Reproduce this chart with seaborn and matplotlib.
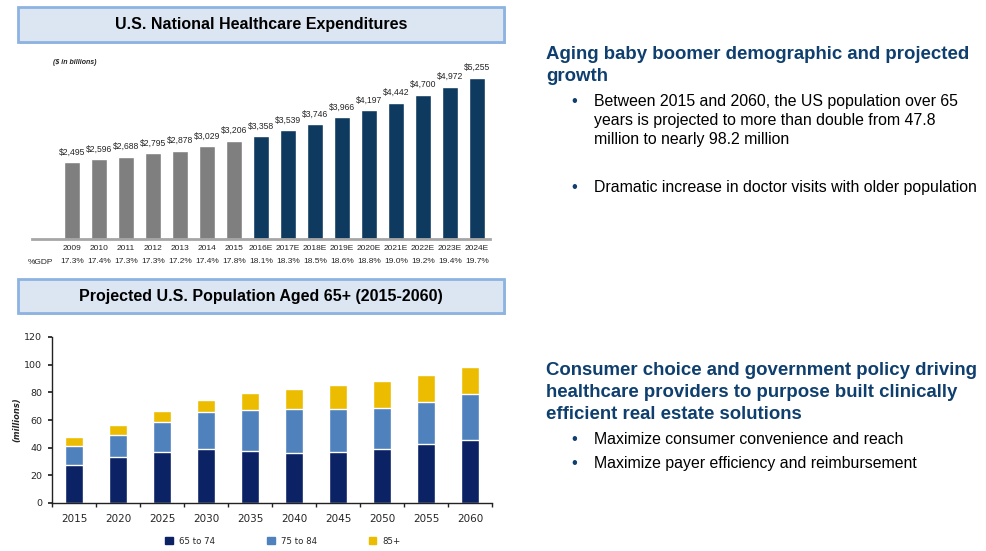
import matplotlib
matplotlib.use('Agg')

import matplotlib.pyplot as plt
from matplotlib.patches import Rectangle, Patch
import seaborn as sns
import pandas as pd

# top chart data
years = ['2009', '2010', '2011', '2012', '2013', '2014', '2015', '2016E', '2017E',
         '2018E', '2019E', '2020E', '2021E', '2022E', '2023E', '2024E']
spend = [2495, 2596, 2688, 2795, 2878, 3029, 3206, 3358, 3539, 3746, 3966,
         4197, 4442, 4700, 4972, 5255]
kind = ['Actual'] * 7 + ['Estimate'] * 9
gdp_pct = ['17.3%', '17.4%', '17.3%', '17.3%', '17.2%', '17.4%', '17.8%', '18.1%',
           '18.3%', '18.5%', '18.6%', '18.8%', '19.0%', '19.2%', '19.4%', '19.7%']

# bottom chart data (millions)
pop_years = ['2015', '2020', '2025', '2030', '2035', '2040', '2045', '2050', '2055', '2060']
age_65_74 = [27.6, 33.1, 37.2, 38.9, 37.9, 36.5, 37.2, 38.9, 43.0, 45.7]
age_75_84 = [13.8, 16.2, 21.7, 26.6, 29.0, 31.1, 30.4, 29.5, 29.7, 32.8]
age_85up = [6.4, 7.0, 7.3, 8.9, 12.3, 15.0, 17.4, 20.0, 19.8, 19.7]

sns.set_theme(style='white')
plt.rcParams['font.family'] = ['Liberation Sans', 'DejaVu Sans']

W, H = 987, 551
fig = plt.figure(figsize=(W / 100, H / 100), dpi=100)


def fx(px):
    return px / W


def fy(py):
    return 1 - py / H


def title_box(y0, y1, text):
    fig.patches.append(Rectangle((fx(20), fy(y1 + 2)), fx(486), (y1 - y0) / H,
                                 transform=fig.transFigure, facecolor='#c8c8c8',
                                 edgecolor='none', zorder=0))
    fig.patches.append(Rectangle((fx(18), fy(y1)), fx(486), (y1 - y0) / H,
                                 transform=fig.transFigure, facecolor='#dce6f2',
                                 edgecolor='#8db3e2', linewidth=2, zorder=1))
    fig.text(fx(261), fy((y0 + y1) / 2), text, ha='center', va='center',
             fontsize=11.5, fontweight='bold', color='black')


title_box(7, 42, 'U.S. National Healthcare Expenditures')
title_box(279, 313, 'Projected U.S. Population Aged 65+ (2015-2060)')

# ---- top chart: healthcare spend
df_top = pd.DataFrame({'year': years, 'spend': spend, 'kind': kind})
ax1 = fig.add_axes([fx(32), fy(239), fx(458), 184 / H])
sns.barplot(data=df_top, x='year', y='spend', hue='kind', dodge=False,
            palette={'Actual': '#7f7f7f', 'Estimate': '#0d3a5e'},
            width=0.56, legend=False, ax=ax1, saturation=1)
for c in ax1.containers:
    ax1.bar_label(c, fmt='${:,.0f}', fontsize=6.2, padding=4)
ax1.set_ylim(0, 6000)
ax1.set_xlim(-1.48, 15.48)
ax1.set_xlabel('')
ax1.set_ylabel('')
ax1.set_yticks([])
for s in ['top', 'right', 'left']:
    ax1.spines[s].set_visible(False)
ax1.spines['bottom'].set_color('#a6a6a6')
ax1.spines['bottom'].set_linewidth(2)
ax1.tick_params(axis='x', length=0, pad=4.5, labelsize=6)
for i, g in enumerate(gdp_pct):
    ax1.text(i, -0.125, g, transform=ax1.get_xaxis_transform(), ha='center',
             va='center', fontsize=6)
fig.text(fx(28), fy(262), '%GDP', ha='left', va='center', fontsize=6)
fig.text(fx(53), fy(63), '($ in billions)', ha='left', va='center', fontsize=5,
         fontstyle='italic', fontweight='bold')

# ---- bottom chart: population 65+
df_pop = pd.DataFrame({'year': pop_years, 'a': age_65_74, 'b': age_75_84, 'c': age_85up})
df_pop['ab'] = df_pop['a'] + df_pop['b']
df_pop['abc'] = df_pop['ab'] + df_pop['c']

ax2 = fig.add_axes([fx(52), fy(503), fx(440), 166 / H])
sns.barplot(data=df_pop, x='year', y='abc', color='#ecbc00', saturation=1,
            width=0.41, ax=ax2)
sns.barplot(data=df_pop, x='year', y='ab', color='#4f81bd', saturation=1,
            width=0.41, ax=ax2)
sns.barplot(data=df_pop, x='year', y='a', color='#0b2265', saturation=1,
            width=0.41, ax=ax2)
ax2.set_ylim(0, 120)
ax2.set_xlim(-0.5, 9.5)
ax2.set_yticks(range(0, 121, 20))
ax2.set_xlabel('')
ax2.set_ylabel('(millions)', fontsize=6, fontweight='bold', fontstyle='italic',
               family='DejaVu Sans', labelpad=2)
for s in ['top', 'right']:
    ax2.spines[s].set_visible(False)
for s in ['left', 'bottom']:
    ax2.spines[s].set_color('#222222')
    ax2.spines[s].set_linewidth(1)
ax2.set_xticks([i - 0.5 for i in range(11)], minor=True)
ax2.tick_params(axis='x', which='minor', bottom=True, length=3, color='#222222')
ax2.tick_params(axis='x', which='major', bottom=False, length=0, pad=8, labelsize=7.5)
ax2.tick_params(axis='y', left=True, length=3, color='#222222', pad=4, labelsize=6.8)
for lab in ax2.get_xticklabels() + ax2.get_yticklabels():
    lab.set_family('DejaVu Sans')

handles = [Patch(color='#0b2265', label='65 to 74'),
           Patch(color='#4f81bd', label='75 to 84'),
           Patch(color='#ecbc00', label='85+')]
fig.legend(handles=handles, loc='center', bbox_to_anchor=(fx(283), fy(541)),
           ncol=3, frameon=False, prop={'family': 'DejaVu Sans', 'size': 6.2},
           handlelength=0.9, handleheight=0.9, handletextpad=0.7, columnspacing=6)

# ---- right side text
navy = '#0e3f6e'
heads = [(59, 'Aging baby boomer demographic and projected'), (81, 'growth'),
         (375, 'Consumer choice and government policy driving'),
         (397, 'healthcare providers to purpose built clinically'),
         (419, 'efficient real estate solutions')]
for y, t in heads:
    fig.text(fx(546), fy(y), t, ha='left', va='baseline', fontsize=13.4,
             fontweight='bold', color=navy)

bullet_lines = [(106, 'Between 2015 and 2060, the US population over 65', True),
                (125, 'years is projected to more than double from 47.8', False),
                (144, 'million to nearly 98.2 million', False),
                (192, 'Dramatic increase in doctor visits with older population', True),
                (444, 'Maximize consumer convenience and reach', True),
                (468, 'Maximize payer efficiency and reimbursement', True)]
for y, t, dot in bullet_lines:
    fig.text(fx(594), fy(y), t, ha='left', va='baseline', fontsize=11.4, color='black')
    if dot:
        fig.text(fx(574), fy(y), '\u2022', ha='center', va='baseline', fontsize=12,
                 color=navy)

fig.savefig('out.png', dpi=100)
